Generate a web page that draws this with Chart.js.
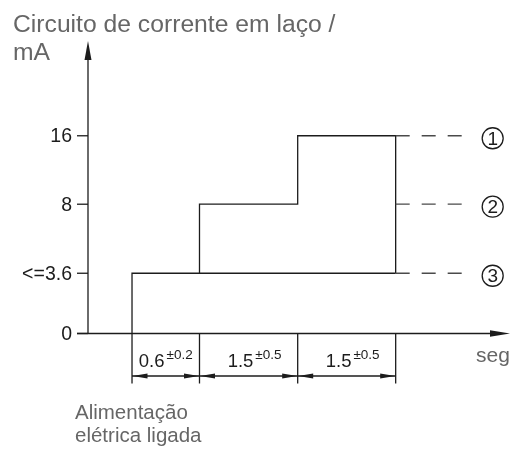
<!DOCTYPE html>
<html><head><meta charset="utf-8">
<script src="https://cdn.jsdelivr.net/npm/chart.js@4.4.1/dist/chart.umd.min.js"></script>
<style>html,body{margin:0;padding:0;background:#fff;}#wrap{width:516px;height:450px;position:relative;}</style>
</head><body><div id="wrap"><canvas id="c" width="516" height="450" style="width:516px;height:450px"></canvas></div>
<script>
// ---- data ----
const levelValues = [0, 3.6, 8, 16];            // mA, y ticks
const levelLabels = ['0', '<=3.6', '8', '16'];
const phaseDurations = [0.6, 1.5, 1.5];         // s
const phaseTolerances = [0.2, 0.5, 0.5];        // s
const phaseLevels = [3.6, 8, 16];               // mA during each phase
const outcomeLevels = [16, 8, 3.6];             // mA after start-up
const outcomeLabels = ['1', '2', '3'];
const yTitleLines = ['Circuito de corrente em laço /', 'mA'];
const xTitle = 'seg';
const eventLabelLines = ['Alimentação', 'elétrica ligada'];

// ---- schematic (piecewise) scale ----
class KnotScale extends Chart.LinearScale {
  _frac(v){const k=this.options.knots;if(v<=k[0][0])return k[0][1];
    for(let i=1;i<k.length;i++){if(v<=k[i][0]){const a=k[i-1],b=k[i];return a[1]+(v-a[0])/(b[0]-a[0])*(b[1]-a[1]);}}
    return k[k.length-1][1];}
  getPixelForValue(v){return v==null?NaN:this.getPixelForDecimal(this._frac(v));}
  getValueForPixel(p){const d=this.getDecimalForPixel(p);const k=this.options.knots;
    for(let i=1;i<k.length;i++){if(d<=k[i][1]){const a=k[i-1],b=k[i];return a[0]+(d-a[1])/(b[1]-a[1])*(b[0]-a[0]);}}
    return k[k.length-1][0];}
}
KnotScale.id='knot';
KnotScale.defaults=Chart.LinearScale.defaults;
Chart.register(KnotScale);

const starts=[0];phaseDurations.forEach((d,i)=>starts.push(+(starts[i]+d).toFixed(3)));
const tEnd=starts[starts.length-1];

// datasets built from arrays
const baseLine=[{x:starts[0],y:levelValues[0]},{x:starts[0],y:phaseLevels[0]},{x:tEnd,y:phaseLevels[0]}];
const stepLine=[];
for(let i=1;i<phaseLevels.length;i++){
  stepLine.push({x:starts[i],y:phaseLevels[i-1]},{x:starts[i],y:phaseLevels[i]},{x:starts[i+1],y:phaseLevels[i]});
}
stepLine.push({x:tEnd,y:Math.min(...outcomeLevels)});

const INK='#1c1c1c';
const FONT='"Liberation Sans", Arial, Helvetica, sans-serif';

const deco={
  id:'deco',
  beforeDatasetsDraw(chart){
    const ctx=chart.ctx,xs=chart.scales.x,ys=chart.scales.y,ca=chart.chartArea;
    const x0=ca.left,y0=ys.getPixelForValue(0);
    ctx.save();ctx.strokeStyle=INK;ctx.fillStyle=INK;ctx.lineWidth=1.3;
    // y axis
    ctx.beginPath();ctx.moveTo(x0,y0);ctx.lineTo(x0,ca.top+12);ctx.stroke();
    ctx.beginPath();ctx.moveTo(x0,ca.top);ctx.lineTo(x0-3.5,ca.top+19);ctx.lineTo(x0+3.5,ca.top+19);ctx.closePath();ctx.fill();
    // x axis
    ctx.beginPath();ctx.moveTo(x0-11,y0);ctx.lineTo(ca.right-12,y0);ctx.stroke();
    ctx.beginPath();ctx.moveTo(ca.right,y0);ctx.lineTo(ca.right-20,y0-3.3);ctx.lineTo(ca.right-20,y0+3.3);ctx.closePath();ctx.fill();
    // y ticks + labels
    ctx.font='19.5px '+FONT;ctx.textAlign='right';ctx.textBaseline='middle';
    levelValues.forEach((v,i)=>{const y=ys.getPixelForValue(v);
      ctx.beginPath();ctx.moveTo(x0-11,y);ctx.lineTo(x0,y);ctx.stroke();
      ctx.fillText(levelLabels[i],x0-16,y+1);});
    ctx.restore();
  },
  afterDatasetsDraw(chart){
    const ctx=chart.ctx,xs=chart.scales.x,ys=chart.scales.y,ca=chart.chartArea;
    const y0=ys.getPixelForValue(0);
    ctx.save();ctx.strokeStyle=INK;ctx.fillStyle=INK;ctx.lineWidth=1.3;
    const xe=xs.getPixelForValue(tEnd);
    // leader lines and circled labels
    outcomeLevels.forEach((v,i)=>{const y=ys.getPixelForValue(v);
      ctx.save();ctx.strokeStyle='#4a4a4a';ctx.setLineDash([14,12]);
      ctx.beginPath();ctx.moveTo(xe,y);ctx.lineTo(xe+66,y);ctx.stroke();ctx.restore();
      ctx.beginPath();ctx.arc(xe+97,y+2.5,10.5,0,Math.PI*2);ctx.stroke();
      ctx.font='19px '+FONT;ctx.textAlign='center';ctx.textBaseline='middle';
      ctx.fillText(outcomeLabels[i],xe+97,y+3.5);
    });
    // dimension extension lines
    const yDim=y0+42.5,yExt=y0+50;
    starts.forEach(t=>{const x=xs.getPixelForValue(t);ctx.beginPath();ctx.moveTo(x,y0);ctx.lineTo(x,yExt);ctx.stroke();});
    ctx.beginPath();ctx.moveTo(xs.getPixelForValue(starts[0]),yDim);ctx.lineTo(xe,yDim);ctx.stroke();
    const arrow=(xt,dir)=>{ctx.beginPath();ctx.moveTo(xt,yDim);ctx.lineTo(xt+dir*15,yDim-2.6);ctx.lineTo(xt+dir*15,yDim+2.6);ctx.closePath();ctx.fill();};
    phaseDurations.forEach((d,i)=>{
      const a=xs.getPixelForValue(starts[i]),b=xs.getPixelForValue(starts[i+1]);
      arrow(a+0.5,1);arrow(b-0.5,-1);
      const main=String(d),sup='\u00b1'+phaseTolerances[i];
      ctx.font='18.5px '+FONT;const wm=ctx.measureText(main).width;
      ctx.font='13.5px '+FONT;const ws=ctx.measureText(sup).width;
      const w=wm+2+ws,segW=b-a;
      const left=a+(segW-w)/2+(segW>80?6:0);
      ctx.textAlign='left';ctx.textBaseline='alphabetic';
      ctx.font='18.5px '+FONT;ctx.fillText(main,left,y0+33.5);
      ctx.font='13.5px '+FONT;ctx.fillText(sup,left+wm+2,y0+25.5);
    });
    // texts
    ctx.fillStyle='#666';ctx.textAlign='left';ctx.textBaseline='alphabetic';
    ctx.font='24.7px '+FONT;
    ctx.fillText(yTitleLines[0],13,32);ctx.fillText(yTitleLines[1],13,60);
    ctx.font='21px '+FONT;
    ctx.fillText(xTitle,476,y0+28.5);
    ctx.font='20.5px '+FONT;
    ctx.fillText(eventLabelLines[0],75,419);ctx.fillText(eventLabelLines[1],75,442);
    ctx.restore();
  }
};

new Chart(document.getElementById('c'),{
  type:'scatter',
  data:{datasets:[
    {data:baseLine,showLine:true,borderColor:INK,borderWidth:1.3,pointRadius:0,tension:0},
    {data:stepLine,showLine:true,borderColor:INK,borderWidth:1.3,pointRadius:0,tension:0}
  ]},
  options:{
    responsive:false,animation:false,devicePixelRatio:1,
    layout:{padding:{left:88,right:6,top:41,bottom:116.5}},
    plugins:{legend:{display:false},tooltip:{enabled:false},title:{display:false}},
    scales:{
      x:{type:'knot',display:false,min:-0.6,max:5.4,
        knots:[[-0.6,0],[0,0.1043],[0.6,0.2642],[2.1,0.4969],[3.6,0.7291],[5.4,1]]},
      y:{type:'knot',display:false,min:0,max:24,
        knots:[[0,0],[3.6,0.206],[8,0.442],[16,0.676],[24,1]]}
    }
  },
  plugins:[deco]
});
</script></body></html>
